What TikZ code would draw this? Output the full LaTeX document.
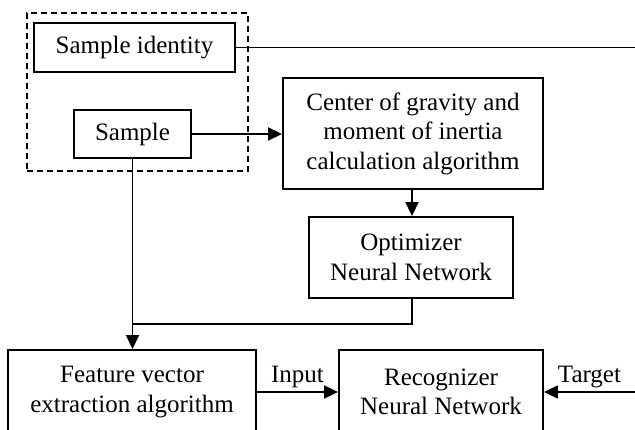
\documentclass[tikz,border=0pt]{standalone}
\usepackage{fontspec}
\setmainfont{Liberation Serif}
\usetikzlibrary{arrows.meta}
\begin{document}
\begin{tikzpicture}[x=1pt,y=-1pt,
  box/.style={draw,line width=1.9pt,inner sep=0pt,align=center,
    font=\fontsize{25}{29.5}\selectfont},
  frame/.style={draw,line width=1.7pt,dash pattern=on 6pt off 4pt,inner sep=0pt},
  conn/.style={line width=1.9pt},
  arr/.style={conn,-{Triangle[length=14pt,width=13pt]}},
  lbl/.style={font=\fontsize{25}{29.5}\selectfont,inner sep=0pt}]
\useasboundingbox (0,0) rectangle (635,430);
\clip (0,0) rectangle (635,430);
\node[frame,minimum width=221pt,minimum height=158pt] (grp) at (137.5,92) {};
\node[box,minimum width=201pt,minimum height=49pt] (sid) at (134.5,47.5) {Sample identity};
\node[box,minimum width=117pt,minimum height=48pt] (smp) at (132.5,134) {Sample};
\node[box,minimum width=260pt,minimum height=111pt] (cog) at (413,133.5) {Center of gravity and\\moment of inertia\\calculation algorithm};
\node[box,minimum width=204pt,minimum height=81pt] (opt) at (411,257.5) {Optimizer\\Neural Network};
\node[box,minimum width=248pt,minimum height=84pt] (fea) at (132,392) {Feature vector\\extraction algorithm};
\node[box,minimum width=204pt,minimum height=84pt] (rec) at (441,392) {Recognizer\\Neural Network};
\coordinate (sidend) at (635,47.5);
\coordinate (tgt) at (635,392);
\coordinate (join) at (smp.south |- 0,324);
\draw[conn] (sid.east) -- (sidend);
\draw[arr] (smp.east) -- (smp.east -| cog.west);
\draw[arr] (cog.south -| 412,0) -- (opt.north -| 412,0);
\draw[conn] (opt.south -| 412,0) |- (join);
\draw[arr] (smp.south) -- (smp.south |- fea.north);
\draw[arr] (fea.east) -- (rec.west) node[lbl,midway,above=3pt] {Input};
\draw[arr] (tgt) -- (rec.east) node[lbl,midway,above=3pt] {Target};
\end{tikzpicture}
\end{document}
